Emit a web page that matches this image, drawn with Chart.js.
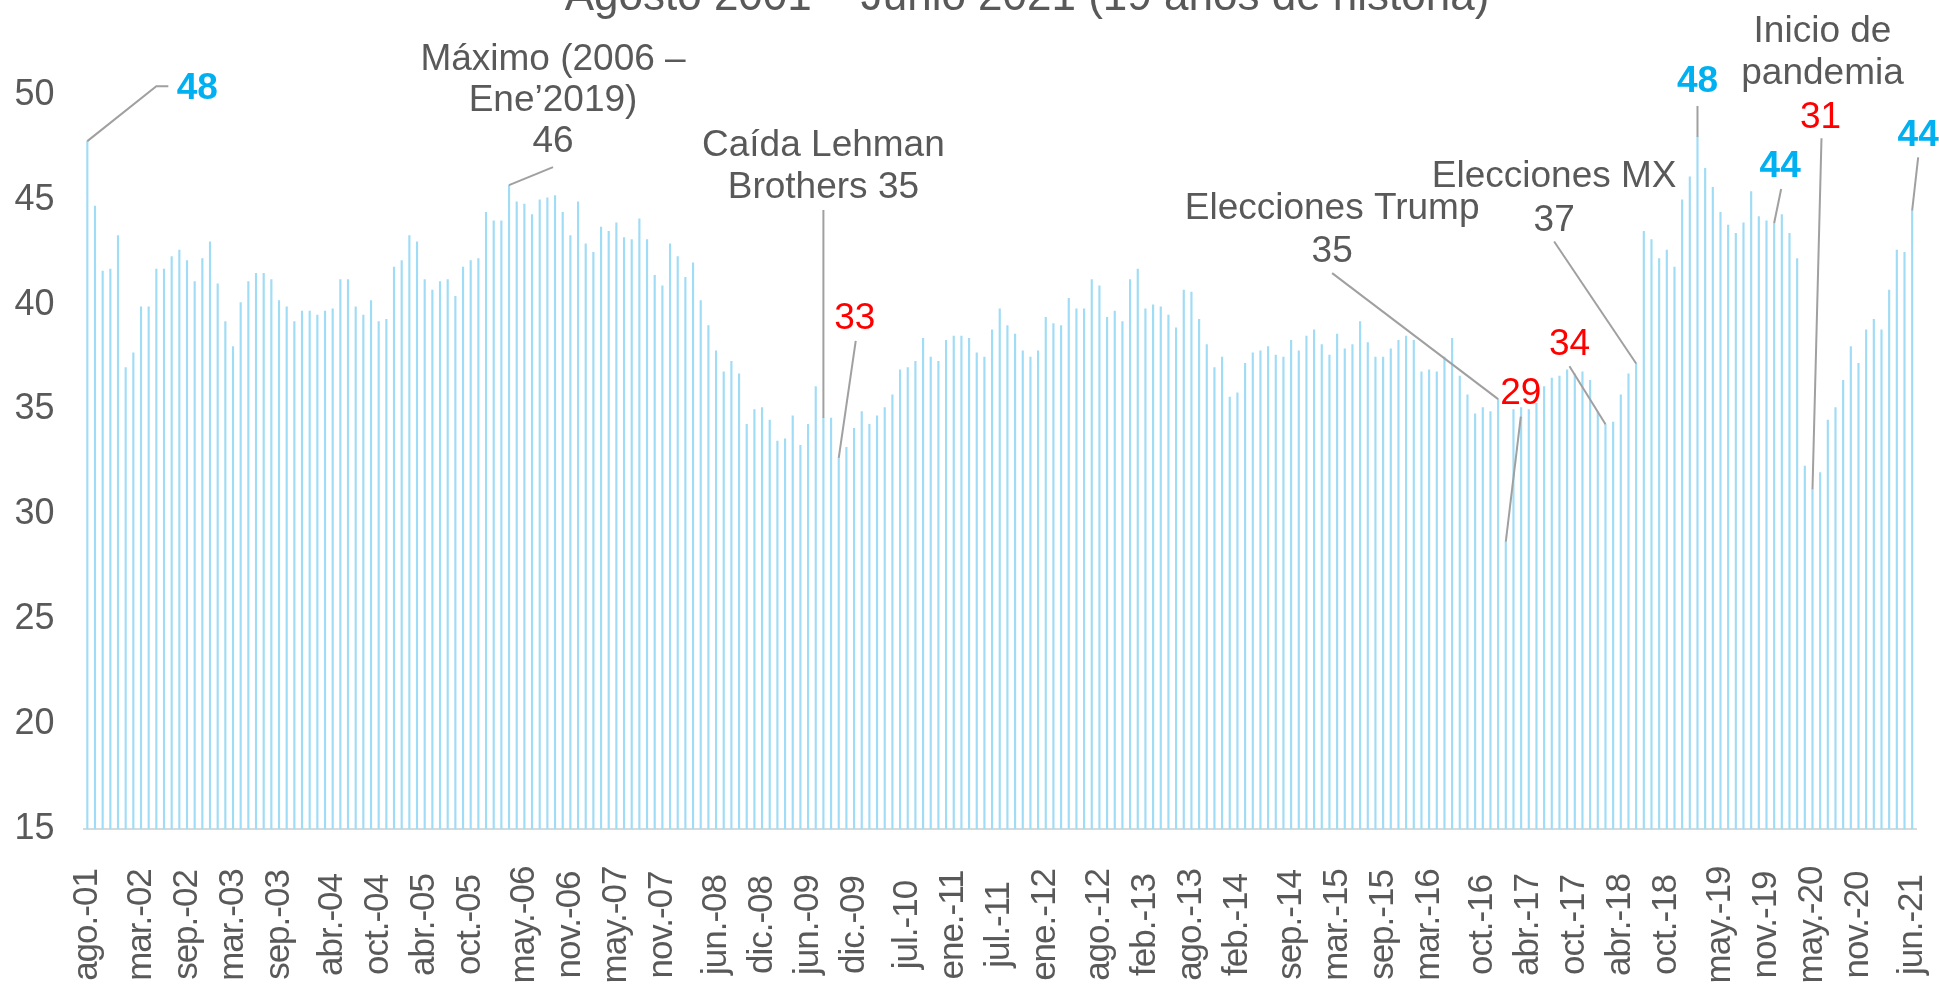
<!DOCTYPE html>
<html>
<head>
<meta charset="utf-8">
<script src="https://cdn.jsdelivr.net/npm/chart.js@4/dist/chart.umd.min.js"></script>
<style>
  body { margin: 0; background: #fff; }
  canvas { display: block; }
</style>
</head>
<body>
<canvas id="myChart" width="1939" height="987"></canvas>
<script>
const monthNames = ["ene.", "feb.", "mar.", "abr.", "may.", "jun.", "jul.", "ago.", "sep.", "oct.", "nov.", "dic."]
const firstMonth = 7
const firstYear = 2001

const tickLabels = ["ago.-01", "mar.-02", "sep.-02", "mar.-03", "sep.-03", "abr.-04", "oct.-04", "abr.-05", "oct.-05",
  "may.-06", "nov.-06", "may.-07", "nov.-07", "jun.-08", "dic.-08", "jun.-09", "dic.-09", "jul.-10", "ene.-11",
  "jul.-11", "ene.-12", "ago.-12", "feb.-13", "ago.-13", "feb.-14", "sep.-14", "mar.-15", "sep.-15", "mar.-16",
  "oct.-16", "abr.-17", "oct.-17", "abr.-18", "oct.-18", "may.-19", "nov.-19", "may.-20", "nov.-20", "jun.-21"]

// confianza del consumidor, mensual ago-01 .. jun-21
const values = [
  47.8, 44.7, 41.6, 41.7, 43.3, 37.0, 37.7, 39.9, 39.9, 41.7, 41.7, 42.3, 42.6, 42.1, 41.1, 42.2, 43.0, 41.0, 39.2, 38.0,
  40.1, 41.1, 41.5, 41.5, 41.2, 40.2, 39.9, 39.2, 39.7, 39.7, 39.5, 39.7, 39.8, 41.2, 41.2, 39.9, 39.5, 40.2, 39.2, 39.3,
  41.8, 42.1, 43.3, 43.0, 41.2, 40.7, 41.1, 41.2, 40.4, 41.8, 42.1, 42.2, 44.4, 44.0, 44.0, 45.7, 44.9, 44.8, 44.3, 45.0,
  45.1, 45.2, 44.4, 43.3, 44.9, 42.9, 42.5, 43.7, 43.5, 43.9, 43.2, 43.1, 44.1, 43.1, 41.4, 40.9, 42.9, 42.3, 41.3, 42.0,
  40.2, 39.0, 37.8, 36.8, 37.3, 36.7, 34.3, 35.0, 35.1, 34.5, 33.5, 33.6, 34.7, 33.3, 34.3, 36.1, 34.6, 34.6, 32.7, 33.2,
  34.1, 34.9, 34.3, 34.7, 35.1, 35.7, 36.9, 37.0, 37.3, 38.4, 37.5, 37.3, 38.3, 38.5, 38.5, 38.4, 37.7, 37.5, 38.8, 39.8,
  39.0, 38.6, 37.8, 37.5, 37.8, 39.4, 39.1, 39.0, 40.3, 39.8, 39.8, 41.2, 40.9, 39.4, 39.7, 39.2, 41.2, 41.7, 39.8, 40.0,
  39.9, 39.5, 38.9, 40.7, 40.6, 39.3, 38.1, 37.0, 37.5, 35.6, 35.8, 37.2, 37.7, 37.8, 38.0, 37.6, 37.5, 38.3, 37.8, 38.5,
  38.8, 38.1, 37.6, 38.6, 37.9, 38.1, 39.2, 38.2, 37.5, 37.5, 37.9, 38.3, 38.5, 38.3, 36.8, 36.9, 36.8, 37.5, 38.4, 36.6,
  35.7, 34.8, 35.1, 34.9, 35.5, 28.7, 35.0, 35.1, 35.0, 35.3, 36.1, 36.5, 36.6, 36.9, 36.7, 36.8, 36.4, 34.9, 34.3, 34.4,
  35.7, 36.7, 37.2, 43.5, 43.1, 42.2, 42.6, 41.8, 45.0, 46.1, 48.0, 46.5, 45.6, 44.4, 43.8, 43.4, 43.9, 45.4, 44.2, 44.0,
  43.9, 44.3, 43.4, 42.2, 32.3, 31.2, 32.0, 34.5, 35.1, 36.4, 38.0, 37.2, 38.8, 39.3, 38.8, 40.7, 42.6, 42.5, 44.5
]

const categories = values.map((v, i) => {
  const m = firstMonth + i
  const yy = (firstYear + Math.floor(m / 12)) % 100
  return monthNames[m % 12] + "-" + String(yy).padStart(2, "0")
})

const fontFamily = "'Liberation Sans', Arial, sans-serif"
const gray = "#595959"
const red = "#ff0000"
const blue = "#00b0f0"
const titleText = "Agosto 2001 – Junio 2021 (19 años de historia)"

// notas sobre las barras: desplazamientos en px respecto a la punta de la barra
const notes = [
  {i: 0, lines: ["48"], color: blue, bold: true, dx: 110, dy: -55, path: [[69, -55], [81, -55]]},
  {i: 55, lines: ["Máximo (2006 –", "Ene’2019)", "46"], color: gray, dx: 44, dy: -128, lh: 41, path: [[44, -18]]},
  {i: 96, lines: ["Caída Lehman", "Brothers 35"], color: gray, dx: 0, dy: -275, lh: 42, path: [[0, -208]]},
  {i: 98, lines: ["33"], color: red, dx: 16, dy: -142, path: [[17, -117]]},
  {i: 184, lines: ["Elecciones Trump", "35"], color: gray, dx: -166, dy: -193, lh: 43, path: [[-166, -126]]},
  {i: 185, lines: ["29"], color: red, dx: 15, dy: -151, path: [[15, -125]]},
  {i: 198, lines: ["34"], color: red, dx: -36, dy: -83, path: [[-36, -58]]},
  {i: 202, lines: ["Elecciones MX", "37"], color: gray, dx: -82, dy: -190, lh: 44, path: [[-82, -122]]},
  {i: 210, lines: ["48"], color: blue, bold: true, dx: 0, dy: -58, path: [[0, -31]]},
  {i: 225, lines: ["Inicio de", "pandemia"], color: gray, dx: 10, dy: -461, lh: 42, path: []},
  {i: 225, lines: ["31"], color: red, dx: 8, dy: -375, path: [[9, -351]]},
  {i: 220, lines: ["44"], color: blue, bold: true, dx: 6, dy: -59, path: [[7, -34]]},
  {i: 238, lines: ["44"], color: blue, bold: true, dx: 6, dy: -78, path: [[6, -53]]}
]

const notesPlugin = {
  id: "notes",
  afterDatasetsDraw(chart) {
    const ctx = chart.ctx
    const bars = chart.getDatasetMeta(0).data
    const xScale = chart.scales.x
    ctx.save()
    ctx.fillStyle = gray
    ctx.font = "44px " + fontFamily
    ctx.textAlign = "center"
    ctx.textBaseline = "alphabetic"
    ctx.fillText(titleText, 1027, 10)

    // etiquetas del eje x, giradas y centradas como en Excel
    ctx.font = "35px " + fontFamily
    ctx.letterSpacing = "-1px"
    ctx.textBaseline = "middle"
    categories.forEach((c, i) => {
      if (!tickLabels.includes(c)) return
      ctx.save()
      ctx.translate(xScale.getPixelForValue(i), xScale.top + 96)
      ctx.rotate(-Math.PI / 2)
      ctx.fillText(c, 0, 0)
      ctx.restore()
    })
    ctx.letterSpacing = "0px"

    ctx.textBaseline = "alphabetic"
    notes.forEach(n => {
      const x = bars[n.i].x
      const y = bars[n.i].y
      if (n.path.length) {
        ctx.strokeStyle = "#a0a0a0"
        ctx.lineWidth = 2
        ctx.beginPath()
        ctx.moveTo(x, y)
        n.path.forEach(p => ctx.lineTo(x + p[0], y + p[1]))
        ctx.stroke()
      }
      const size = 37
      ctx.font = (n.bold ? "bold " : "") + size + "px " + fontFamily
      ctx.fillStyle = n.color
      ctx.textAlign = "center"
      n.lines.forEach((t, k) => {
        ctx.fillText(t, x + n.dx, y + n.dy + k * (n.lh || 0) + size * 0.36)
      })
    })
    ctx.restore()
  }
}

const ctx = document.getElementById("myChart")
new Chart(ctx, {
  type: "bar",
  data: {
    labels: categories,
    datasets: [{
      data: values,
      backgroundColor: "rgb(160, 220, 245)",
      borderWidth: 0,
      barThickness: 1.5
    }]
  },
  options: {
    responsive: false,
    animation: false,
    devicePixelRatio: 1,
    layout: {padding: {top: 95, right: 23, left: 0, bottom: 0}},
    plugins: {
      legend: {display: false},
      tooltip: {enabled: false},
      title: {display: false}
    },
    scales: {
      x: {
        grid: {display: false, drawTicks: false},
        border: {display: true, color: "#d9d9d9", width: 2},
        ticks: {display: false},
        afterFit: scale => {
          scale.height = 158
          scale.paddingLeft = 0
          scale.paddingRight = 0
        }
      },
      y: {
        min: 15,
        max: 50,
        grid: {display: false, drawTicks: false},
        border: {display: false},
        ticks: {
          stepSize: 5,
          padding: 29,
          color: gray,
          font: {family: fontFamily, size: 36}
        },
        afterFit: scale => { scale.width = 83.5 }
      }
    }
  },
  plugins: [notesPlugin]
})
</script>
</body>
</html>
